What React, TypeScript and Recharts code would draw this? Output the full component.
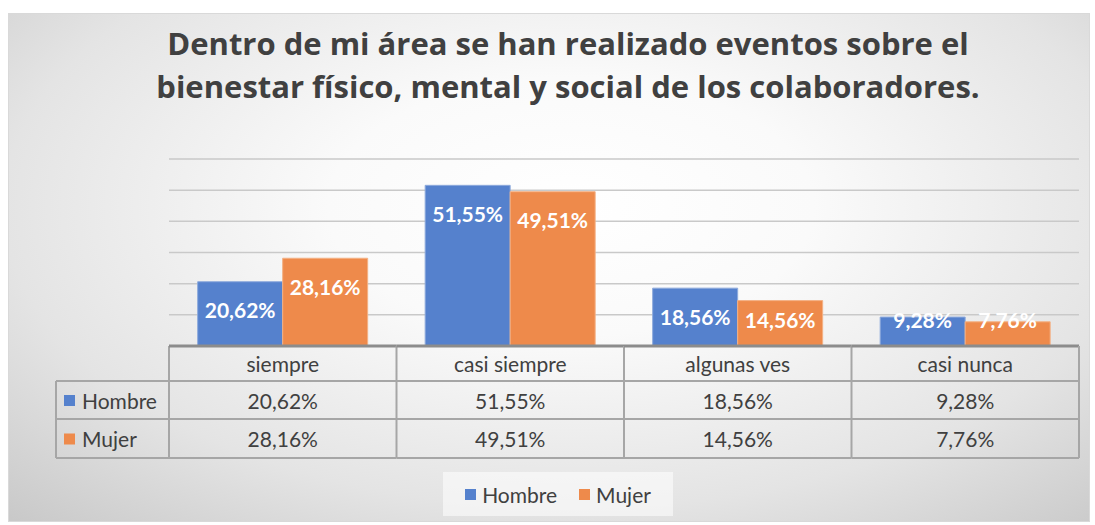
import { Bar, BarChart, CartesianGrid, LabelList, XAxis, YAxis } from 'recharts'

const categories = ['siempre', 'casi siempre', 'algunas ves', 'casi nunca']
const hombre = [20.62, 51.55, 18.56, 9.28]
const mujer = [28.16, 49.51, 14.56, 7.76]
const seriesNames = ['Hombre', 'Mujer']
const yTicks = [0, 10, 20, 30, 40, 50, 60]

const COLORS = ['#5581CD', '#EE8A4B']
const FONT = 'Lato, "Open Sans", sans-serif'
const TEXT = '#404040'
const LINE = '#a6a6a6'

const W = 1080
const H = 507
const MARGIN = { top: 145, right: 10, left: 160, bottom: 63 }
const PLOT_W = W - MARGIN.left - MARGIN.right
const COL_W = PLOT_W / categories.length
const LABEL_W = 113
const ROWS = [35, 38, 39] // header, Hombre, Mujer

const chartData = categories.map((name, i) => ({ name, hombre: hombre[i], mujer: mujer[i] }))

const fmt = (v: number) => `${v.toFixed(2).replace('.', ',')}%`

function BarLabel(props: any) {
  const { x, y, width, height, value } = props
  const cy = y + Math.min(28, height - 27)
  return (
    <text
      x={x + width / 2}
      y={cy}
      textAnchor="middle"
      dominantBaseline="central"
      fill="#fff"
      fontWeight={700}
      fontSize={21}
      fontFamily={FONT}
    >
      {fmt(value)}
    </text>
  )
}

// draws one column of the data table under each category
function TableTick(props: any) {
  const { x, y, payload } = props
  const i = payload.index
  const left = x - COL_W / 2
  const right = x + COL_W / 2
  const r1 = y + ROWS[0]
  const r2 = r1 + ROWS[1]
  const r3 = r2 + ROWS[2]
  const values = [hombre[i], mujer[i]]
  const txt = { fontFamily: FONT, fontSize: 21, fill: TEXT, textAnchor: 'middle' as const, dominantBaseline: 'central' as const }
  return (
    <g>
      {i === 0 && (
        <g>
          <line x1={left - LABEL_W} x2={left} y1={r1} y2={r1} stroke={LINE} strokeWidth={2} />
          <line x1={left - LABEL_W} x2={left} y1={r2} y2={r2} stroke={LINE} strokeWidth={2} />
          <line x1={left - LABEL_W} x2={left} y1={r3} y2={r3} stroke={LINE} strokeWidth={2} />
          <line x1={left - LABEL_W} x2={left - LABEL_W} y1={r1} y2={r3} stroke={LINE} strokeWidth={2} />
          <line x1={left} x2={left} y1={y} y2={r3} stroke={LINE} strokeWidth={2} />
          {seriesNames.map((s, k) => {
            const cy = k === 0 ? (r1 + r2) / 2 : (r2 + r3) / 2
            return (
              <g key={s}>
                <rect x={left - LABEL_W + 8} y={cy - 5} width={11} height={11} fill={COLORS[k]} />
                <text x={left - LABEL_W + 26} y={cy} fontFamily={FONT} fontSize={21} fill={TEXT} dominantBaseline="central">{s}</text>
              </g>
            )
          })}
        </g>
      )}
      <line x1={left} x2={right} y1={y} y2={y} stroke="#8c8c8c" strokeWidth={3} />
      <line x1={left} x2={right} y1={r1} y2={r1} stroke={LINE} strokeWidth={2} />
      <line x1={left} x2={right} y1={r2} y2={r2} stroke={LINE} strokeWidth={2} />
      <line x1={left} x2={right} y1={r3} y2={r3} stroke={LINE} strokeWidth={2} />
      <line x1={right} x2={right} y1={y} y2={r3} stroke={LINE} strokeWidth={2} />
      <text x={x} y={(y + r1) / 2} {...txt}>{payload.value}</text>
      <text x={x} y={(r1 + r2) / 2} {...txt}>{fmt(values[0])}</text>
      <text x={x} y={(r2 + r3) / 2} {...txt}>{fmt(values[1])}</text>
    </g>
  )
}

export default function App() {
  return (
    <div
      style={{
        position: 'absolute',
        left: 8,
        top: 13,
        width: W,
        height: H,
        border: '1px solid #d9d9d9',
        background: 'radial-gradient(ellipse 75% 85% at 52% 38%, #ffffff 0%, #fafafa 30%, #e4e4e4 70%, #c9c9c9 100%)',
        fontFamily: FONT,
      }}
    >
      <div
        style={{
          position: 'absolute',
          top: 8,
          left: 38,
          right: 0,
          textAlign: 'center',
          fontWeight: 700,
          fontSize: 31,
          lineHeight: '43px',
          color: TEXT,
          fontFamily: '"Open Sans", sans-serif',
        }}
      >
        Dentro de mi área se han realizado eventos sobre el
        <br />
        bienestar físico, mental y social de los colaboradores.
      </div>
      <div style={{ position: 'absolute', left: 0, top: 0 }}>
        <BarChart width={W} height={H} data={chartData} margin={MARGIN} barCategoryGap="12.6%" barGap={0}>
          <CartesianGrid vertical={false} stroke="#c9c9c9" strokeWidth={1.5} horizontalValues={yTicks} />
          <YAxis hide domain={[0, 60]} ticks={yTicks} />
          <XAxis
            dataKey="name"
            height={112}
            axisLine={false}
            tickLine={false}
            tickSize={0}
            tickMargin={0}
            interval={0}
            tick={<TableTick />}
          />
          <Bar dataKey="hombre" name={seriesNames[0]} fill={COLORS[0]} stroke="#8eaadc" strokeWidth={1} isAnimationActive={false}>
            <LabelList dataKey="hombre" content={<BarLabel />} />
          </Bar>
          <Bar dataKey="mujer" name={seriesNames[1]} fill={COLORS[1]} stroke="#f4b184" strokeWidth={1} isAnimationActive={false}>
            <LabelList dataKey="mujer" content={<BarLabel />} />
          </Bar>
        </BarChart>
      </div>
      <div
        style={{
          position: 'absolute',
          left: 434,
          top: 458,
          width: 230,
          height: 44,
          background: 'rgba(255,255,255,0.55)',
          display: 'flex',
          alignItems: 'center',
          justifyContent: 'center',
          gap: 22,
          fontSize: 21,
          color: TEXT,
        }}
      >
        {seriesNames.map((s, k) => (
          <span key={s} style={{ display: 'flex', alignItems: 'center', gap: 6 }}>
            <span style={{ width: 11, height: 11, background: COLORS[k], display: 'inline-block' }} />
            {s}
          </span>
        ))}
      </div>
    </div>
  )
}
